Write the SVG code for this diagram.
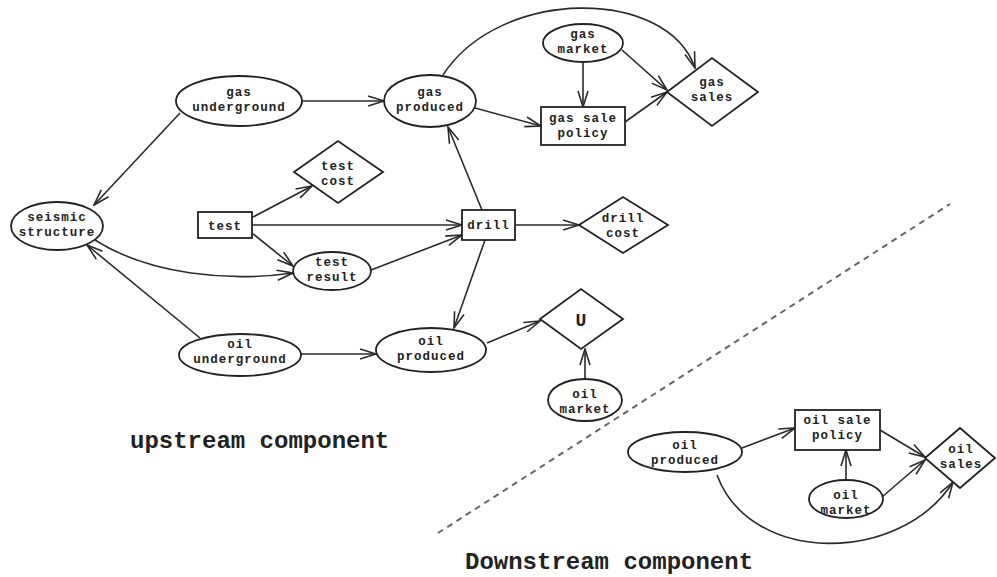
<svg xmlns="http://www.w3.org/2000/svg" width="997" height="577" viewBox="0 0 997 577">
<defs>
<marker id="arr" markerUnits="userSpaceOnUse" markerWidth="18" markerHeight="12" viewBox="0 0 18 12" refX="17" refY="6" orient="auto">
<path d="M1,1 L17,6 L1,11" fill="none" stroke="#2a2a2a" stroke-width="1.6"/>
</marker>
<style>
.n{fill:#fff;stroke:#222;stroke-width:1.8}
.t{font-family:"Liberation Mono","DejaVu Sans Mono",monospace;font-weight:bold;font-size:12.5px;letter-spacing:1px;fill:#222;text-anchor:middle}
.e{fill:none;stroke:#2a2a2a;stroke-width:1.6;marker-end:url(#arr)}
.cap{font-family:"Liberation Mono","DejaVu Sans Mono",monospace;font-weight:bold;font-size:24px;fill:#222}
</style>
</defs>
<rect width="997" height="577" fill="#fff"/>
<g id="connectors">
<path class="e" d="M180,113 L94,205"/>
<path class="e" d="M302,101 L384,101"/>
<path class="e" d="M475,108 L541,126"/>
<path class="e" d="M443,75 C500,-13 667,-13 695,68"/>
<path class="e" d="M583,62 L583,107"/>
<path class="e" d="M622,50 L667,90"/>
<path class="e" d="M625,122 L667,92"/>
<path class="e" d="M482,210 L448,127"/>
<path class="e" d="M253,217 L312,186"/>
<path class="e" d="M252,225 L462,225"/>
<path class="e" d="M252,233 L293,266"/>
<path class="e" d="M95,240 C150,275 230,282 293,273"/>
<path class="e" d="M371,270 L462,235"/>
<path class="e" d="M515,225 L579,225"/>
<path class="e" d="M485,240 L454,328"/>
<path class="e" d="M200,338 L87,245"/>
<path class="e" d="M301,354 L376,354"/>
<path class="e" d="M487,343 L540,321"/>
<path class="e" d="M585,379 L585,349"/>
<path class="e" d="M742,448 L795,428"/>
<path class="e" d="M846,480 L846,450"/>
<path class="e" d="M880,430 L925,457"/>
<path class="e" d="M882,497 L925,460"/>
<path class="e" d="M717,475 C750,565 900,565 953,482"/>
</g>
<g id="gas_underground"><ellipse class="n" cx="239" cy="101" rx="63" ry="25"/><text class="t" x="239" y="96">gas</text><text class="t" x="239" y="111">underground</text></g>
<g id="gas_produced"><ellipse class="n" cx="430" cy="101" rx="46" ry="26"/><text class="t" x="430" y="96">gas</text><text class="t" x="430" y="111">produced</text></g>
<g id="gas_market"><ellipse class="n" cx="583" cy="43" rx="40" ry="19"/><text class="t" x="583" y="38">gas</text><text class="t" x="583" y="53">market</text></g>
<g id="gas_sale_policy"><rect class="n" x="541" y="107" width="84" height="38"/><text class="t" x="583" y="122">gas sale</text><text class="t" x="583" y="137">policy</text></g>
<g id="gas_sales"><polygon class="n" points="667,92 712,58 758,92 712,126"/><text class="t" x="712" y="86">gas</text><text class="t" x="712" y="101">sales</text></g>
<g id="seismic_structure"><ellipse class="n" cx="57" cy="226" rx="46" ry="24"/><text class="t" x="57" y="221">seismic</text><text class="t" x="57" y="236">structure</text></g>
<g id="test"><rect class="n" x="198" y="212" width="54" height="26"/><text class="t" x="225" y="230">test</text></g>
<g id="test_cost"><polygon class="n" points="294,172 338,141 383,172 338,203"/><text class="t" x="338" y="170">test</text><text class="t" x="338" y="185">cost</text></g>
<g id="test_result"><ellipse class="n" cx="332" cy="271" rx="39" ry="19"/><text class="t" x="332" y="266">test</text><text class="t" x="332" y="281">result</text></g>
<g id="drill"><rect class="n" x="462" y="210" width="53" height="30"/><text class="t" x="488.5" y="229">drill</text></g>
<g id="drill_cost"><polygon class="n" points="579,225 623,197 668,225 623,253"/><text class="t" x="623" y="222">drill</text><text class="t" x="623" y="237">cost</text></g>
<g id="oil_underground"><ellipse class="n" cx="240" cy="355" rx="61" ry="21"/><text class="t" x="240" y="348">oil</text><text class="t" x="240" y="363">underground</text></g>
<g id="oil_produced_up"><ellipse class="n" cx="431" cy="350" rx="55" ry="22"/><text class="t" x="431" y="345">oil</text><text class="t" x="431" y="360">produced</text></g>
<g id="u"><polygon class="n" points="540,319 581,289 623,319 581,349"/><text class="t" x="581" y="326" style="font-size:18px;letter-spacing:0">U</text></g>
<g id="oil_market_up"><ellipse class="n" cx="585" cy="400" rx="37" ry="21"/><text class="t" x="585" y="398">oil</text><text class="t" x="585" y="413">market</text></g>
<g id="oil_produced_down"><ellipse class="n" cx="685" cy="452" rx="57" ry="20"/><text class="t" x="685" y="449">oil</text><text class="t" x="685" y="464">produced</text></g>
<g id="oil_sale_policy"><rect class="n" x="795" y="410" width="85" height="40"/><text class="t" x="837.5" y="424">oil sale</text><text class="t" x="837.5" y="439">policy</text></g>
<g id="oil_sales"><polygon class="n" points="925,458 960,428 995,458 960,488"/><text class="t" x="961" y="453">oil</text><text class="t" x="961" y="468">sales</text></g>
<g id="oil_market_down"><ellipse class="n" cx="846" cy="499" rx="37" ry="19"/><text class="t" x="846" y="499">oil</text><text class="t" x="846" y="514">market</text></g>
<line x1="438" y1="533" x2="950" y2="204" stroke="#666" stroke-width="2" stroke-dasharray="6 5"/>
<text class="cap" x="130" y="448">upstream component</text>
<text class="cap" x="465" y="569">Downstream component</text>
</svg>
